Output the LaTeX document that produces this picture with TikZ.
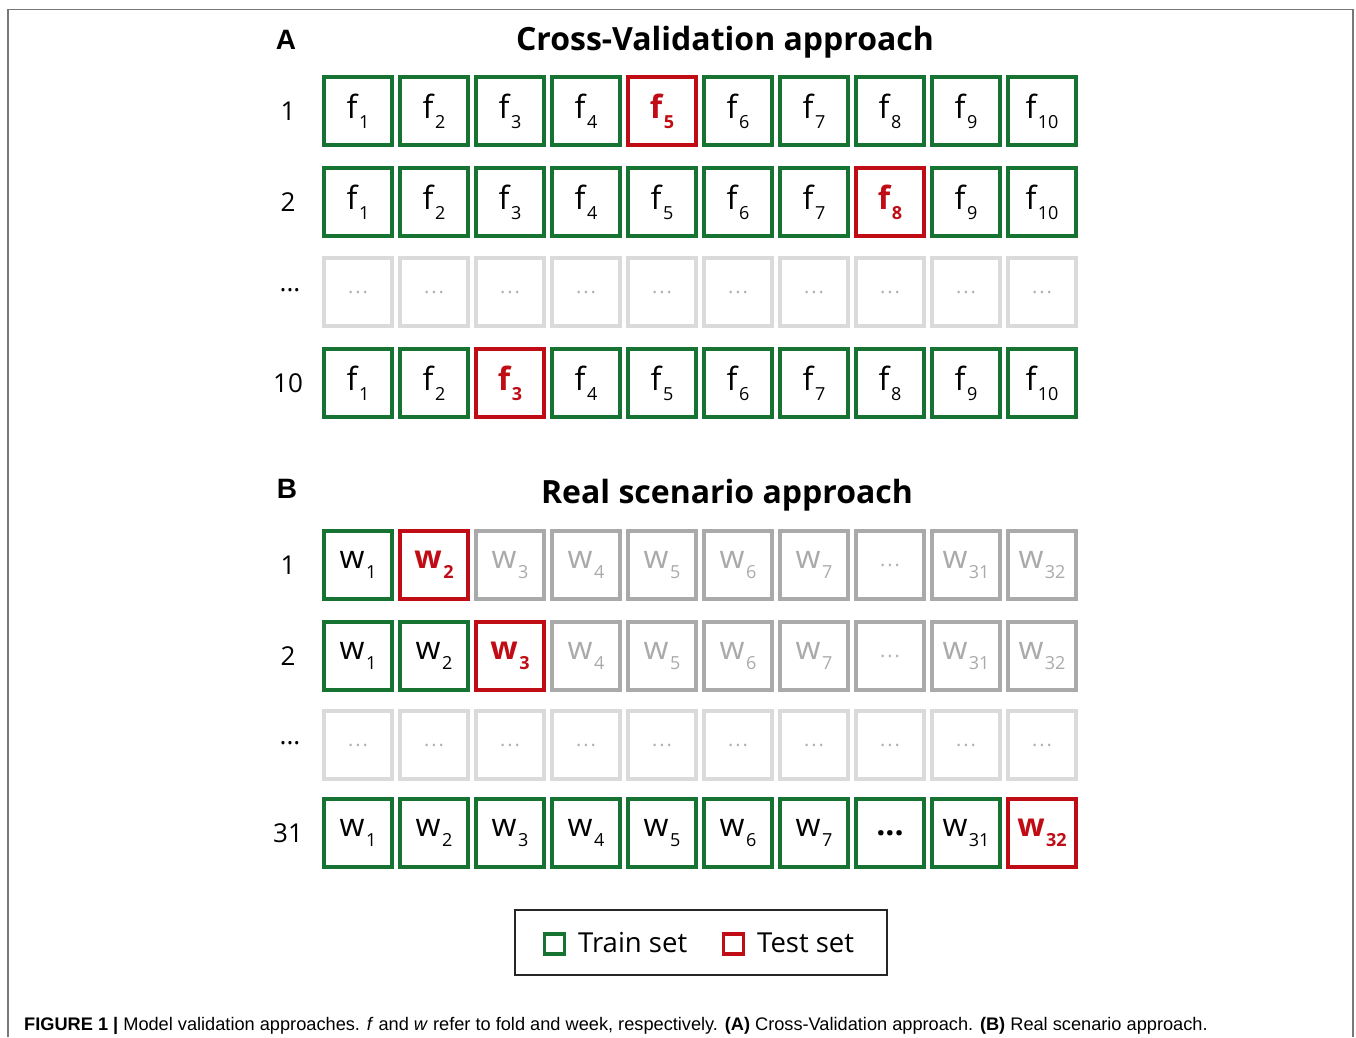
\documentclass[tikz,border=0pt]{standalone}
\usepackage{fontspec}
\setmainfont{Open Sans}
\newfontfamily\capfont{Liberation Sans}
\definecolor{trgreen}{RGB}{22,115,50}
\definecolor{tsred}{RGB}{192,12,20}
\definecolor{futgray}{RGB}{170,170,170}
\definecolor{dotgray}{RGB}{218,218,218}
\definecolor{framegray}{RGB}{120,120,120}
% fold/week label with a lowered subscript
\newcommand\idx[2]{#1\kern1.5pt\raisebox{-10pt}{\fontsize{18}{18}\selectfont #2}}
\newcommand\blankdots{{\fontsize{20}{20}\selectfont\color{black!30}.\kern2pt.\kern2pt.}}
\begin{document}
\begin{tikzpicture}[x=1pt,y=-1pt,
  cell/.style={draw, line width=3.6pt, minimum size=68pt, inner sep=0pt,
    font=\fontsize{32}{32}\selectfont, text=black},
  train/.style={cell, draw=trgreen},
  test/.style={cell, draw=tsred, text=tsred, font=\fontsize{32}{32}\selectfont\bfseries},
  future/.style={cell, draw=futgray, text=futgray},
  blank/.style={cell, draw=dotgray},
  rowlab/.style={font=\fontsize{26}{26}\selectfont, anchor=center},
  panel/.style={font=\fontsize{28}{28}\selectfont\capfont\bfseries},
  heading/.style={font=\fontsize{32}{32}\selectfont\bfseries},
]
\useasboundingbox (0,0) rectangle (1356,1037);
% figure frame
\draw[framegray, line width=1.6pt] (8,1037) -- (8,9.5) -- (1353,9.5) -- (1353,1037);

% ---------------- Panel A: cross-validation ----------------
\node[panel] (labA) at (286,40) {A};
\node[heading] (headA) at (725,42) {Cross-Validation approach};

\foreach \r/\y/\lab/\t in {1/111/1/5, 2/202/2/8, 4/383/10/3}{
  \node[rowlab] (a\r-lab) at (288,\y) {\lab};
  \foreach \c in {1,...,10}{
    \pgfmathtruncatemacro\xx{358+76*(\c-1)}
    \ifnum\c=\t
      \node[test] (a\r-\c) at (\xx,\y) {\idx{f}{\c}};
    \else
      \node[train] (a\r-\c) at (\xx,\y) {\idx{f}{\c}};
    \fi
  }
}
\node[rowlab] (a3-lab) at (290,290) {...};
\foreach \c in {1,...,10}{
  \pgfmathtruncatemacro\xx{358+76*(\c-1)}
  \node[blank] (a3-\c) at (\xx,292) {\blankdots};
}

% ---------------- Panel B: real scenario ----------------
\node[panel] (labB) at (287,489) {B};
\node[heading] (headB) at (727,495) {Real scenario approach};

% labels of the week cells
\def\wlab#1{\ifnum#1=8 ...\else\ifnum#1=9 \idx{w}{31}\else\ifnum#1=10 \idx{w}{32}\else\idx{w}{#1}\fi\fi\fi}

\foreach \r/\y/\lab/\t in {1/565/1/2, 2/656/2/3, 4/833/31/10}{
  \node[rowlab] (b\r-lab) at (288,\y) {\lab};
  \foreach \c in {1,...,10}{
    \pgfmathtruncatemacro\xx{358+76*(\c-1)}
    \ifnum\c<\t
      \node[train] (b\r-\c) at (\xx,\y) {\ifnum\c=8 \textbf{...}\else\wlab{\c}\fi};
    \else\ifnum\c=\t
      \node[test] (b\r-\c) at (\xx,\y) {\wlab{\c}};
    \else
      \node[future] (b\r-\c) at (\xx,\y) {\ifnum\c=8 \blankdots\else\wlab{\c}\fi};
    \fi\fi
  }
}
\node[rowlab] (b3-lab) at (290,743) {...};
\foreach \c in {1,...,10}{
  \pgfmathtruncatemacro\xx{358+76*(\c-1)}
  \node[blank] (b3-\c) at (\xx,745) {\blankdots};
}

% ---------------- Legend ----------------
\node[draw=black!85, line width=1.3pt, minimum width=372pt, minimum height=65pt] (legend) at (701,942.5) {};
\node[draw=trgreen, line width=3.2pt, minimum size=20pt, inner sep=0pt] (keytrain) at (554.5,944) {};
\node[anchor=west, font=\fontsize{27.5}{28}\selectfont, inner sep=0pt] (txttrain) at (578,943) {Train set};
\node[draw=tsred, line width=3.2pt, minimum size=20pt, inner sep=0pt] (keytest) at (733.5,944) {};
\node[anchor=west, font=\fontsize{27.5}{28}\selectfont, inner sep=0pt] (txttest) at (757,943) {Test set};

% ---------------- Caption ----------------
\node[anchor=base west, inner sep=0pt, font=\fontsize{18.2}{18}\selectfont\capfont] (caption) at (24,1030)
  {\textbf{FIGURE 1 |} Model validation approaches. \textit{f} and \textit{w} refer to fold and week, respectively. \textbf{(A)} Cross-Validation approach. \textbf{(B)} Real scenario approach.};
\end{tikzpicture}
\end{document}
